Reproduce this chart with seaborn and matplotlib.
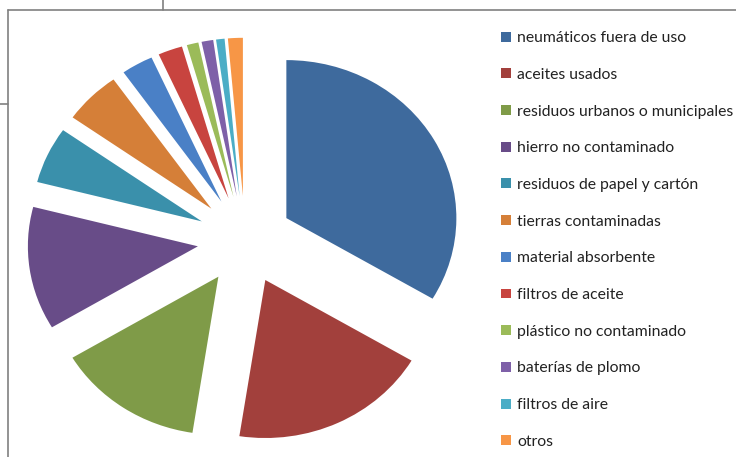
import numpy as np
import matplotlib
matplotlib.use("Agg")
import matplotlib.pyplot as plt
from matplotlib.lines import Line2D
import seaborn as sns

labels = [
    "neumáticos fuera de uso",
    "aceites usados",
    "residuos urbanos o municipales",
    "hierro no contaminado",
    "residuos de papel y cartón",
    "tierras contaminadas",
    "material absorbente",
    "filtros de aceite",
    "plástico no contaminado",
    "baterías de plomo",
    "filtros de aire",
    "otros",
]
values = [33.3, 18.8, 13.9, 12.5, 5.75, 5.4, 3.0, 2.3, 1.1, 1.1, 0.8, 1.4]
colors = [
    "#3e6a9d", "#a2403c", "#7f9b48", "#684c88", "#3a90ab", "#d57f38",
    "#4a80c6", "#c8443f", "#9bbb59", "#7e60a8", "#4badc6", "#f79646",
]

sns.set_theme(style="white")
plt.rcParams["font.family"] = ["Lato", "DejaVu Sans"]

W, H = 736, 457
fig = plt.figure(figsize=(W / 100, H / 100), dpi=100)
fig.patch.set_facecolor("white")

# pie area: centre ~ (245, 240) px, radius ~170 px horizontally, ~158 px vertically
cx, cy = 245, 240
rx, ry = 170, 158
lim = 1.4
ax = fig.add_axes([(cx - lim * rx) / W, (H - cy - lim * ry) / H,
                   2 * lim * rx / W, 2 * lim * ry / H])
wedges, _ = ax.pie(values, colors=colors, startangle=90, counterclock=False,
                   explode=[0.28] * len(values),
                   wedgeprops=dict(linewidth=0))
ax.set_aspect("auto")
ax.set_xlim(-lim, lim)
ax.set_ylim(-lim, lim)
ax.axis("off")

fig.legend(wedges, labels, loc="upper left",
           bbox_to_anchor=(495 / W, 1 - 25 / H),
           frameon=False, fontsize=11.3, labelcolor="#222222",
           handlelength=0.6, handleheight=0.6, handletextpad=0.4,
           labelspacing=1.445, borderaxespad=0)

# frame lines from the scanned document
gray = "#808080"
for xs, ys in [((8, W), (10, 10)), ((8, 8), (10, H)),
               ((163, 163), (0, 10)), ((0, 8), (104, 104))]:
    fig.add_artist(Line2D([x / W for x in xs], [1 - y / H for y in ys],
                          color=gray, linewidth=1.2, transform=fig.transFigure))

fig.savefig("out.png", dpi=100)
